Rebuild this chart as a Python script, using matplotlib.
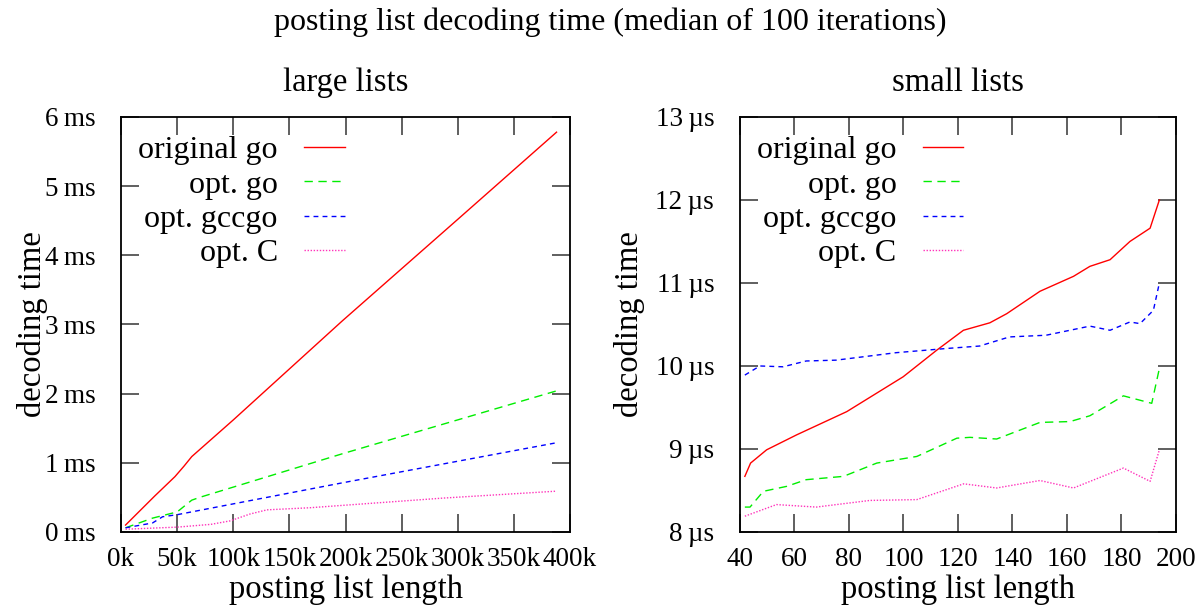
import matplotlib
matplotlib.use("Agg")
import matplotlib.pyplot as plt
import numpy as np
from matplotlib.ticker import FixedLocator

plt.rcParams['font.family'] = ['Liberation Serif', 'DejaVu Serif']

# large lists: posting list length (k) vs decoding time (ms)
large_orig_x = [4, 30, 48, 56, 63, 100, 197, 300, 388]
large_orig_y = [0.10, 0.52, 0.80, 0.95, 1.09, 1.62, 3.05, 4.52, 5.78]
large_optgo_x = [4, 28, 50, 63, 70, 197, 388]
large_optgo_y = [0.06, 0.20, 0.29, 0.46, 0.50, 1.13, 2.04]
large_gccgo_x = [4, 28, 37, 50, 197, 388]
large_gccgo_y = [0.06, 0.13, 0.22, 0.25, 0.71, 1.29]
large_c_x = [4, 50, 80, 97, 115, 130, 168, 287, 388]
large_c_y = [0.04, 0.07, 0.11, 0.16, 0.26, 0.32, 0.35, 0.49, 0.59]

# small lists: posting list length vs decoding time (µs)
small_orig_x = [41.8, 43.9, 49.8, 60.8, 79.2, 99.9, 112.2, 122, 131.7, 137.9, 150.1, 162.4, 168.4, 175.8, 183.1, 190.5, 193.9]
small_orig_y = [8.67, 8.83, 8.99, 9.17, 9.45, 9.87, 10.19, 10.43, 10.52, 10.63, 10.90, 11.08, 11.20, 11.28, 11.50, 11.66, 12.00]
small_gccgo_x = [41.8, 47.3, 55.8, 64.3, 75.3, 97.3, 115.6, 127.9, 138.9, 152.3, 168.4, 175.8, 183.1, 186.8, 191.7, 193.9]
small_gccgo_y = [9.89, 10.00, 9.99, 10.06, 10.07, 10.16, 10.21, 10.24, 10.35, 10.37, 10.48, 10.43, 10.53, 10.51, 10.67, 11.00]
small_optgo_x = [41.8, 43.7, 48.6, 57.2, 64.3, 78.0, 90.2, 104.9, 119.6, 124.4, 134.2, 150.1, 161.1, 168.4, 180.7, 191.1, 193.9]
small_optgo_y = [8.30, 8.30, 8.49, 8.55, 8.63, 8.67, 8.83, 8.91, 9.13, 9.14, 9.12, 9.32, 9.33, 9.40, 9.64, 9.55, 9.97]
small_c_x = [41.8, 53.4, 68, 87.7, 104.9, 122.1, 134.2, 150.1, 162.4, 180.7, 190.5, 193.9]
small_c_y = [8.19, 8.33, 8.30, 8.38, 8.39, 8.58, 8.53, 8.62, 8.53, 8.77, 8.61, 8.99]

labels = ["original go", "opt. go", "opt. gccgo", "opt. C"]
colors = ["#ff0000", "#00ee00", "#0000ff", "#ff33bb"]
styles = ["-", (0, (6, 4)), (0, (3.5, 3)), (0, (1, 1.2))]

fig = plt.figure(figsize=(11.95, 6.05), dpi=100)
fig.text(0.511, 0.963, "posting list decoding time (median of 100 iterations)",
         ha="center", va="center", fontsize=23)

ax1 = fig.add_axes([0.1013, 0.1207, 0.3757, 0.686])
ax2 = fig.add_axes([0.6192, 0.1207, 0.3649, 0.686])

large = [(large_orig_x, large_orig_y), (large_optgo_x, large_optgo_y),
         (large_gccgo_x, large_gccgo_y), (large_c_x, large_c_y)]
small = [(small_orig_x, small_orig_y), (small_optgo_x, small_optgo_y),
         (small_gccgo_x, small_gccgo_y), (small_c_x, small_c_y)]

for (x, y), lab, c, ls in zip(large, labels, colors, styles):
    ax1.plot(x, y, color=c, linestyle=ls, linewidth=1.0, label=lab)
for (x, y), lab, c, ls in zip(small, labels, colors, styles):
    ax2.plot(x, y, color=c, linestyle=ls, linewidth=1.0, label=lab)

ax1.set_xlim(0, 400)
ax1.set_ylim(0, 6)
ax1.xaxis.set_major_locator(FixedLocator(np.arange(0, 401, 50)))
ax1.set_xticklabels([f"{v}k" for v in range(0, 401, 50)])
ax1.yaxis.set_major_locator(FixedLocator(range(0, 7)))
ax1.set_yticklabels([f"{v}\u2009ms" for v in range(0, 7)])

ax2.set_xlim(40, 200)
ax2.set_ylim(8, 13)
ax2.xaxis.set_major_locator(FixedLocator(range(40, 201, 20)))
ax2.yaxis.set_major_locator(FixedLocator(range(8, 14)))
ax2.set_yticklabels([f"{v}\u2009\u00b5s" for v in range(8, 14)])

# subplot titles and axis labels
for ax, title, ylab_x in ((ax1, "large lists", 0.027), (ax2, "small lists", 0.527)):
    box = ax.get_position()
    cx = (box.x0 + box.x1) / 2
    fig.text(cx, 0.864, title, ha="center", va="center", fontsize=23.5)
    fig.text(cx, 0.026, "posting list length", ha="center", va="center", fontsize=23.5)
    fig.text(ylab_x, (box.y0 + box.y1) / 2, "decoding time", ha="center", va="center",
             rotation=90, fontsize=23.5)

for ax in (ax1, ax2):
    ax.tick_params(direction="in", length=13, width=1.2, top=True, right=True,
                   labelsize=19.5, color="#444444")
    ax.tick_params(axis="y", pad=18.5)
    ax.tick_params(axis="x", pad=11)
    for s in ax.spines.values():
        s.set_linewidth(1.3)
    leg = ax.legend(loc="upper left", frameon=False, markerfirst=False, fontsize=23,
                    handlelength=1.28, labelspacing=0.16, borderaxespad=0.0,
                    borderpad=0.47, bbox_to_anchor=(0.005, 0.991), handletextpad=0.81)
    for t in leg.get_texts():
        t.set_ha("right")

fig.savefig("out.png", dpi=100)
